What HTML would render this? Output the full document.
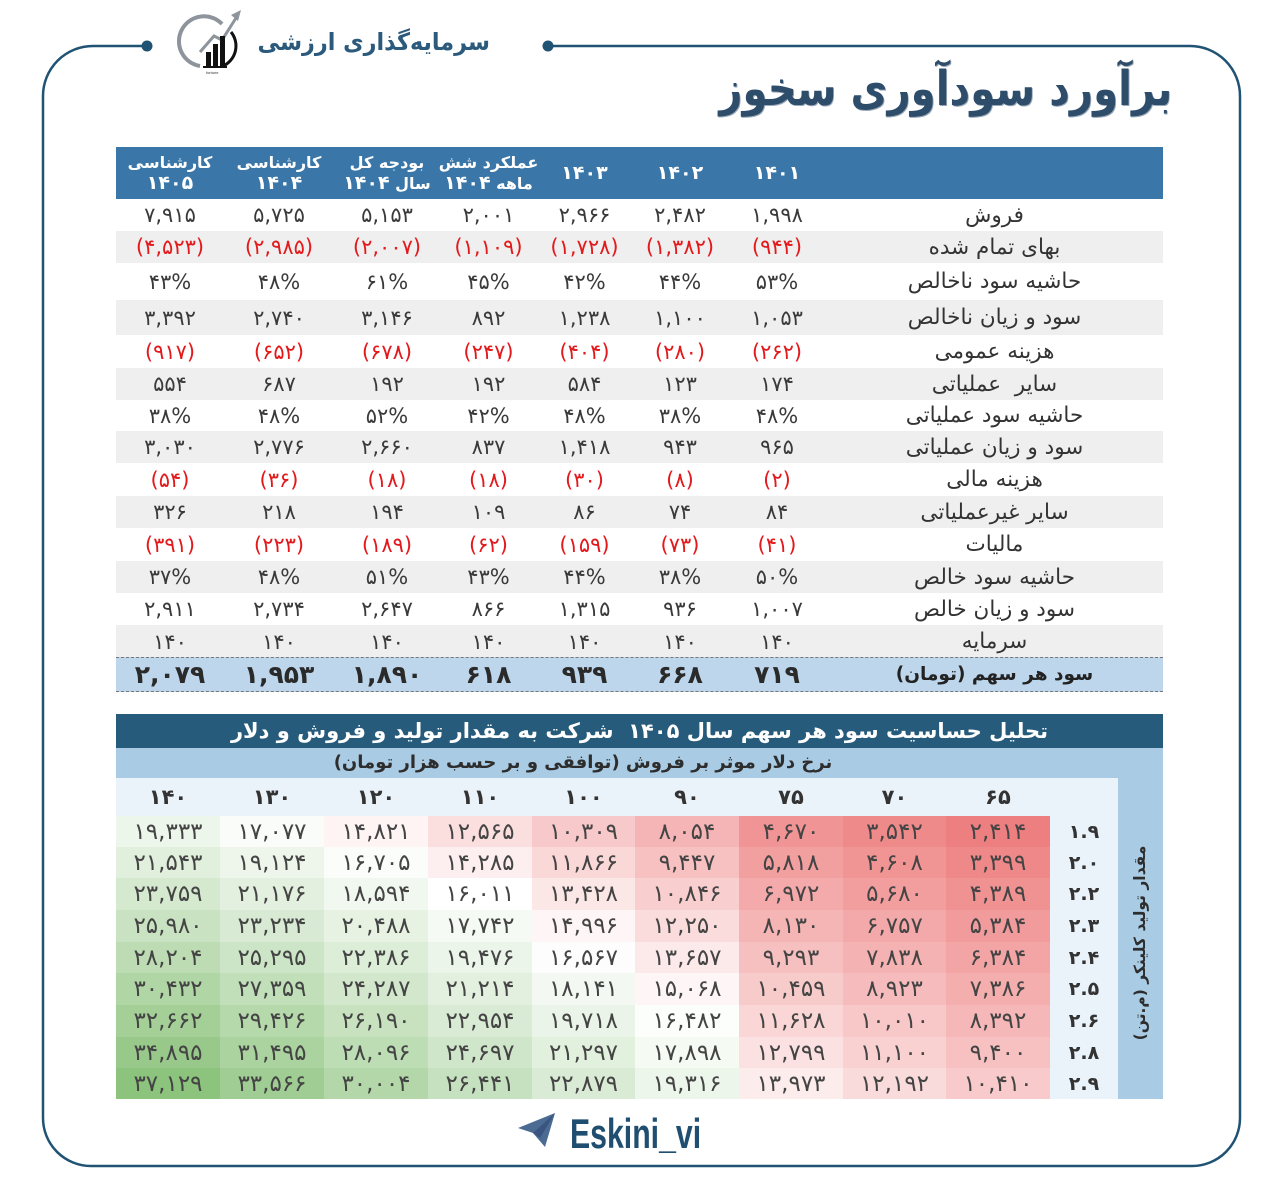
<!DOCTYPE html>
<html lang="fa">
<head>
<meta charset="utf-8">
<style>
*{margin:0;padding:0;box-sizing:border-box}
html,body{width:1280px;height:1191px;background:#fff;overflow:hidden}
body{position:relative;font-family:"DejaVu Sans","Liberation Sans",sans-serif;color:#333}
.abs{position:absolute}
.row{position:absolute;left:116px;width:1047px;display:flex;direction:ltr}
.row div{display:flex;align-items:center;justify-content:center;text-align:center;white-space:nowrap}
.w1{width:108px}.w2{width:110px}.w3{width:106px}.w4{width:97px}.w5{width:95px}.w6{width:96px}.w7{width:98px}.w8{width:337px}
.num{font-size:21px;color:#3a3a3a;font-family:"DejaVu Sans",sans-serif}
.red{color:#e3191c}
.lbl{font-size:21.5px;direction:rtl;color:#333}
.g{background:#efefef}
.hdr{top:147px;height:52px;background:#3a77a8;color:#fff;font-weight:bold;font-size:16px;line-height:20px}
.hdr div{flex-direction:column}
.hdr .n{font-size:19px}
.last{background:#bdd6ec;border-top:1.5px dashed #777;border-bottom:1.5px dashed #777}
.last .num{font-weight:bold;font-size:25px;color:#2a2a2a}
.last .lbl{font-weight:bold;font-size:18.5px;color:#222}
.hm{position:absolute;left:116px;width:1002px;display:flex;direction:ltr}
.hm div{display:flex;align-items:center;justify-content:center;font-size:23px;color:#444;white-space:nowrap}
.hm .rl{width:68px;background:#eaf2fa;font-weight:bold;color:#333;font-size:19px}
.hh div{font-weight:bold;color:#333;font-size:21px}
.a{width:104px}.b{width:103px}
</style>
</head>
<body>

<!-- frame -->
<svg class="abs" style="left:0;top:0" width="1280" height="1191">
<path d="M147,46 H93 A50,50 0 0 0 43,96 V1118 A48,48 0 0 0 91,1166 H1192 A48,48 0 0 0 1240,1118 V96 A50,50 0 0 0 1190,46 H548" fill="none" stroke="#1f5273" stroke-width="2.5"/>
<circle cx="147" cy="46" r="5.5" fill="#1f5273"/>
<circle cx="548" cy="46" r="5.5" fill="#1f5273"/>
<!-- logo -->
<path d="M222,24 A25,25 0 1 0 200,66" fill="none" stroke="#8e949c" stroke-width="4"/>
<path d="M200,52 L214,36 L222,40 L236,18" fill="none" stroke="#8e949c" stroke-width="3"/>
<polygon points="241,10 231,15 238,21" fill="#8e949c"/>
<rect x="206" y="52" width="5" height="14" fill="#111"/>
<rect x="213" y="44" width="5" height="22" fill="#111"/>
<rect x="220" y="36" width="5" height="30" fill="#111"/>
<path d="M231,32 A22,22 0 0 1 223,66" fill="none" stroke="#111" stroke-width="3"/>
<rect x="203" y="66" width="24" height="2" fill="#111"/>
<text x="206" y="74" font-size="4" font-family="Liberation Sans" fill="#333">fortune</text>
<!-- telegram -->
<polygon points="555,1113 518,1128 533,1133 545,1147" fill="#4b6b93"/>
<polygon points="533,1133 555,1113 540,1138" fill="#3a5680"/>
</svg>

<div class="abs" style="right:790px;top:22px;font-size:24px;font-weight:bold;color:#2b5a7c;direction:rtl;white-space:nowrap;line-height:40px;transform:scaleX(0.93);transform-origin:right center">سرمایه‌گذاری ارزشی</div>

<div class="abs" style="right:108px;top:56px;font-size:48px;font-weight:bold;color:#2e4d6b;direction:rtl;white-space:nowrap;line-height:66px;text-shadow:1px 1px 0 #9aa9b8;transform:scaleX(0.84);transform-origin:right center">برآورد سودآوری سخوز</div>

<!-- main table header -->
<div class="row hdr">
<div class="w1">کارشناسی<span class="n">۱۴۰۵</span></div>
<div class="w2">کارشناسی<span class="n">۱۴۰۴</span></div>
<div class="w3"><span dir="rtl">بودجه کل</span><span dir="rtl">سال <span class="n">۱۴۰۴</span></span></div>
<div class="w4"><span dir="rtl">عملکرد شش</span><span dir="rtl">ماهه <span class="n">۱۴۰۴</span></span></div>
<div class="w5 n">۱۴۰۳</div>
<div class="w6 n">۱۴۰۲</div>
<div class="w7 n">۱۴۰۱</div>
<div class="w8"></div>
</div>

<div class="row" style="top:199px;height:32px"><div class="w1 num">۷,۹۱۵</div><div class="w2 num">۵,۷۲۵</div><div class="w3 num">۵,۱۵۳</div><div class="w4 num">۲,۰۰۱</div><div class="w5 num">۲,۹۶۶</div><div class="w6 num">۲,۴۸۲</div><div class="w7 num">۱,۹۹۸</div><div class="w8 lbl">فروش</div></div>
<div class="row g" style="top:231px;height:32px"><div class="w1 num red">(۴,۵۲۳)</div><div class="w2 num red">(۲,۹۸۵)</div><div class="w3 num red">(۲,۰۰۷)</div><div class="w4 num red">(۱,۱۰۹)</div><div class="w5 num red">(۱,۷۲۸)</div><div class="w6 num red">(۱,۳۸۲)</div><div class="w7 num red">(۹۴۴)</div><div class="w8 lbl">بهای تمام شده</div></div>
<div class="row" style="top:263px;height:37px"><div class="w1 num">۴۳%</div><div class="w2 num">۴۸%</div><div class="w3 num">۶۱%</div><div class="w4 num">۴۵%</div><div class="w5 num">۴۲%</div><div class="w6 num">۴۴%</div><div class="w7 num">۵۳%</div><div class="w8 lbl">حاشیه سود ناخالص</div></div>
<div class="row g" style="top:300px;height:35px"><div class="w1 num">۳,۳۹۲</div><div class="w2 num">۲,۷۴۰</div><div class="w3 num">۳,۱۴۶</div><div class="w4 num">۸۹۲</div><div class="w5 num">۱,۲۳۸</div><div class="w6 num">۱,۱۰۰</div><div class="w7 num">۱,۰۵۳</div><div class="w8 lbl">سود و زیان ناخالص</div></div>
<div class="row" style="top:335px;height:33px"><div class="w1 num red">(۹۱۷)</div><div class="w2 num red">(۶۵۲)</div><div class="w3 num red">(۶۷۸)</div><div class="w4 num red">(۲۴۷)</div><div class="w5 num red">(۴۰۴)</div><div class="w6 num red">(۲۸۰)</div><div class="w7 num red">(۲۶۲)</div><div class="w8 lbl">هزینه عمومی</div></div>
<div class="row g" style="top:368px;height:32px"><div class="w1 num">۵۵۴</div><div class="w2 num">۶۸۷</div><div class="w3 num">۱۹۲</div><div class="w4 num">۱۹۲</div><div class="w5 num">۵۸۴</div><div class="w6 num">۱۲۳</div><div class="w7 num">۱۷۴</div><div class="w8 lbl">سایر&nbsp; عملیاتی</div></div>
<div class="row" style="top:400px;height:31px"><div class="w1 num">۳۸%</div><div class="w2 num">۴۸%</div><div class="w3 num">۵۲%</div><div class="w4 num">۴۲%</div><div class="w5 num">۴۸%</div><div class="w6 num">۳۸%</div><div class="w7 num">۴۸%</div><div class="w8 lbl">حاشیه سود عملیاتی</div></div>
<div class="row g" style="top:431px;height:32px"><div class="w1 num">۳,۰۳۰</div><div class="w2 num">۲,۷۷۶</div><div class="w3 num">۲,۶۶۰</div><div class="w4 num">۸۳۷</div><div class="w5 num">۱,۴۱۸</div><div class="w6 num">۹۴۳</div><div class="w7 num">۹۶۵</div><div class="w8 lbl">سود و زیان عملیاتی</div></div>
<div class="row" style="top:463px;height:33px"><div class="w1 num red">(۵۴)</div><div class="w2 num red">(۳۶)</div><div class="w3 num red">(۱۸)</div><div class="w4 num red">(۱۸)</div><div class="w5 num red">(۳۰)</div><div class="w6 num red">(۸)</div><div class="w7 num red">(۲)</div><div class="w8 lbl">هزینه مالی</div></div>
<div class="row g" style="top:496px;height:32px"><div class="w1 num">۳۲۶</div><div class="w2 num">۲۱۸</div><div class="w3 num">۱۹۴</div><div class="w4 num">۱۰۹</div><div class="w5 num">۸۶</div><div class="w6 num">۷۴</div><div class="w7 num">۸۴</div><div class="w8 lbl">سایر غیرعملیاتی</div></div>
<div class="row" style="top:528px;height:33px"><div class="w1 num red">(۳۹۱)</div><div class="w2 num red">(۲۲۳)</div><div class="w3 num red">(۱۸۹)</div><div class="w4 num red">(۶۲)</div><div class="w5 num red">(۱۵۹)</div><div class="w6 num red">(۷۳)</div><div class="w7 num red">(۴۱)</div><div class="w8 lbl">مالیات</div></div>
<div class="row g" style="top:561px;height:32px"><div class="w1 num">۳۷%</div><div class="w2 num">۴۸%</div><div class="w3 num">۵۱%</div><div class="w4 num">۴۳%</div><div class="w5 num">۴۴%</div><div class="w6 num">۳۸%</div><div class="w7 num">۵۰%</div><div class="w8 lbl">حاشیه سود خالص</div></div>
<div class="row" style="top:593px;height:32px"><div class="w1 num">۲,۹۱۱</div><div class="w2 num">۲,۷۳۴</div><div class="w3 num">۲,۶۴۷</div><div class="w4 num">۸۶۶</div><div class="w5 num">۱,۳۱۵</div><div class="w6 num">۹۳۶</div><div class="w7 num">۱,۰۰۷</div><div class="w8 lbl">سود و زیان خالص</div></div>
<div class="row g" style="top:625px;height:33px"><div class="w1 num">۱۴۰</div><div class="w2 num">۱۴۰</div><div class="w3 num">۱۴۰</div><div class="w4 num">۱۴۰</div><div class="w5 num">۱۴۰</div><div class="w6 num">۱۴۰</div><div class="w7 num">۱۴۰</div><div class="w8 lbl">سرمایه</div></div>
<div class="row last" style="top:657px;height:35px"><div class="w1 num">۲,۰۷۹</div><div class="w2 num">۱,۹۵۳</div><div class="w3 num">۱,۸۹۰</div><div class="w4 num">۶۱۸</div><div class="w5 num">۹۳۹</div><div class="w6 num">۶۶۸</div><div class="w7 num">۷۱۹</div><div class="w8 lbl">سود هر سهم (تومان)</div></div>

<!-- sensitivity -->
<div class="abs" style="left:116px;top:714px;width:1047px;height:34px;background:#265b7c;color:#fff;font-weight:bold;font-size:21px;text-align:center;line-height:34px;direction:rtl;white-space:nowrap">تحلیل حساسیت سود هر سهم سال ۱۴۰۵&nbsp; شرکت به مقدار تولید و فروش و دلار</div>
<div class="abs" style="left:116px;top:748px;width:1047px;height:351px;background:#a9cbe4"></div>
<div class="abs" style="left:116px;top:748px;width:934px;height:30px;font-weight:bold;font-size:18px;text-align:center;line-height:30px;direction:rtl;color:#2d2d2d;white-space:nowrap">نرخ دلار موثر بر فروش (توافقی و بر حسب هزار تومان)</div>
<div class="abs" style="left:1040px;top:928px;width:200px;height:30px;transform:rotate(-90deg);transform-origin:center;font-weight:bold;font-size:15.5px;text-align:center;line-height:30px;direction:rtl;color:#2d2d2d;white-space:nowrap">مقدار تولید کلینکر (م.تن)</div>

<div class="hm hh" style="top:778px;height:38px;background:#eaf2fa">
<div class="a">۱۴۰</div><div class="a">۱۳۰</div><div class="a">۱۲۰</div><div class="a">۱۱۰</div><div class="b">۱۰۰</div><div class="a">۹۰</div><div class="a">۷۵</div><div class="b">۷۰</div><div class="a">۶۵</div><div class="rl" style="background:transparent"></div>
</div>

<div class="hm" style="top:816px;height:31px"><div class="a" style="background:#edf6eb">۱۹,۳۳۳</div><div class="a" style="background:#f9fcf8">۱۷,۰۷۷</div><div class="a" style="background:#fef4f4">۱۴,۸۲۱</div><div class="a" style="background:#fbdfdf">۱۲,۵۶۵</div><div class="b" style="background:#f8c9ca">۱۰,۳۰۹</div><div class="a" style="background:#f5b4b5">۸,۰۵۴</div><div class="a" style="background:#f19495">۴,۶۷۰</div><div class="b" style="background:#ef8a8b">۳,۵۴۲</div><div class="a" style="background:#ee7f80">۲,۴۱۴</div><div class="rl">۱.۹</div></div>
<div class="hm" style="top:847px;height:31px"><div class="a" style="background:#e1efdd">۲۱,۵۴۳</div><div class="a" style="background:#eef6ec">۱۹,۱۲۴</div><div class="a" style="background:#fbfdfb">۱۶,۷۰۵</div><div class="a" style="background:#fdefef">۱۴,۲۸۵</div><div class="b" style="background:#fad8d8">۱۱,۸۶۶</div><div class="a" style="background:#f7c1c2">۹,۴۴۷</div><div class="a" style="background:#f29fa0">۵,۸۱۸</div><div class="b" style="background:#f19494">۴,۶۰۸</div><div class="a" style="background:#ef8889">۳,۳۹۹</div><div class="rl">۲.۰</div></div>
<div class="hm" style="top:878px;height:32px"><div class="a" style="background:#d5e9cf">۲۳,۷۵۹</div><div class="a" style="background:#e3f0df">۲۱,۱۷۶</div><div class="a" style="background:#f1f8ef">۱۸,۵۹۴</div><div class="a" style="background:#ffffff">۱۶,۰۱۱</div><div class="b" style="background:#fce7e7">۱۳,۴۲۸</div><div class="a" style="background:#f9cecf">۱۰,۸۴۶</div><div class="a" style="background:#f4aaab">۶,۹۷۲</div><div class="b" style="background:#f29e9e">۵,۶۸۰</div><div class="a" style="background:#f09292">۴,۳۸۹</div><div class="rl">۲.۲</div></div>
<div class="hm" style="top:910px;height:32px"><div class="a" style="background:#c9e3c2">۲۵,۹۸۰</div><div class="a" style="background:#d8ead3">۲۳,۲۳۴</div><div class="a" style="background:#e7f2e3">۲۰,۴۸۸</div><div class="a" style="background:#f6faf4">۱۷,۷۴۲</div><div class="b" style="background:#fef5f6">۱۴,۹۹۶</div><div class="a" style="background:#fadcdc">۱۲,۲۵۰</div><div class="a" style="background:#f5b5b5">۸,۱۳۰</div><div class="b" style="background:#f3a8a9">۶,۷۵۷</div><div class="a" style="background:#f29b9c">۵,۳۸۴</div><div class="rl">۲.۳</div></div>
<div class="hm" style="top:942px;height:31px"><div class="a" style="background:#bddcb4">۲۸,۲۰۴</div><div class="a" style="background:#cce5c6">۲۵,۲۹۵</div><div class="a" style="background:#dcedd8">۲۲,۳۸۶</div><div class="a" style="background:#ecf5ea">۱۹,۴۷۶</div><div class="b" style="background:#fcfdfc">۱۶,۵۶۷</div><div class="a" style="background:#fce9e9">۱۳,۶۵۷</div><div class="a" style="background:#f7c0c0">۹,۲۹۳</div><div class="b" style="background:#f5b2b3">۷,۸۳۸</div><div class="a" style="background:#f3a4a5">۶,۳۸۴</div><div class="rl">۲.۴</div></div>
<div class="hm" style="top:973px;height:32px"><div class="a" style="background:#b0d6a6">۳۰,۴۳۲</div><div class="a" style="background:#c1dfb9">۲۷,۳۵۹</div><div class="a" style="background:#d2e7cc">۲۴,۲۸۷</div><div class="a" style="background:#e3f0df">۲۱,۲۱۴</div><div class="b" style="background:#f3f9f2">۱۸,۱۴۱</div><div class="a" style="background:#fef6f6">۱۵,۰۶۸</div><div class="a" style="background:#f8cbcb">۱۰,۴۵۹</div><div class="b" style="background:#f6bcbd">۸,۹۲۳</div><div class="a" style="background:#f4aeae">۷,۳۸۶</div><div class="rl">۲.۵</div></div>
<div class="hm" style="top:1005px;height:32px"><div class="a" style="background:#a4d098">۳۲,۶۶۲</div><div class="a" style="background:#b6d9ac">۲۹,۴۲۶</div><div class="a" style="background:#c8e2c0">۲۶,۱۹۰</div><div class="a" style="background:#d9ebd4">۲۲,۹۵۴</div><div class="b" style="background:#ebf4e8">۱۹,۷۱۸</div><div class="a" style="background:#fcfefc">۱۶,۴۸۲</div><div class="a" style="background:#fad6d6">۱۱,۶۲۸</div><div class="b" style="background:#f8c7c7">۱۰,۰۱۰</div><div class="a" style="background:#f5b7b8">۸,۳۹۲</div><div class="rl">۲.۶</div></div>
<div class="hm" style="top:1037px;height:31px"><div class="a" style="background:#98c98b">۳۴,۸۹۵</div><div class="a" style="background:#abd3a0">۳۱,۴۹۵</div><div class="a" style="background:#bdddb5">۲۸,۰۹۶</div><div class="a" style="background:#d0e6ca">۲۴,۶۹۷</div><div class="b" style="background:#e2f0de">۲۱,۲۹۷</div><div class="a" style="background:#f5faf3">۱۷,۸۹۸</div><div class="a" style="background:#fbe1e1">۱۲,۷۹۹</div><div class="b" style="background:#f9d1d1">۱۱,۱۰۰</div><div class="a" style="background:#f7c1c1">۹,۴۰۰</div><div class="rl">۲.۸</div></div>
<div class="hm" style="top:1068px;height:31px"><div class="a" style="background:#8cc37d">۳۷,۱۲۹</div><div class="a" style="background:#9fcd93">۳۳,۵۶۶</div><div class="a" style="background:#b3d7a9">۳۰,۰۰۴</div><div class="a" style="background:#c6e1bf">۲۶,۴۴۱</div><div class="b" style="background:#daebd5">۲۲,۸۷۹</div><div class="a" style="background:#edf6eb">۱۹,۳۱۶</div><div class="a" style="background:#fcecec">۱۳,۹۷۳</div><div class="b" style="background:#fadbdb">۱۲,۱۹۲</div><div class="a" style="background:#f8cacb">۱۰,۴۱۰</div><div class="rl">۲.۹</div></div>

<!-- footer -->
<div class="abs" style="left:570px;top:1110px;font-family:'Liberation Sans',sans-serif;font-weight:bold;font-size:42px;color:#1f4e70;line-height:48px;transform:scaleX(0.72);transform-origin:left center;white-space:nowrap">Eskini_vi</div>

</body>
</html>
